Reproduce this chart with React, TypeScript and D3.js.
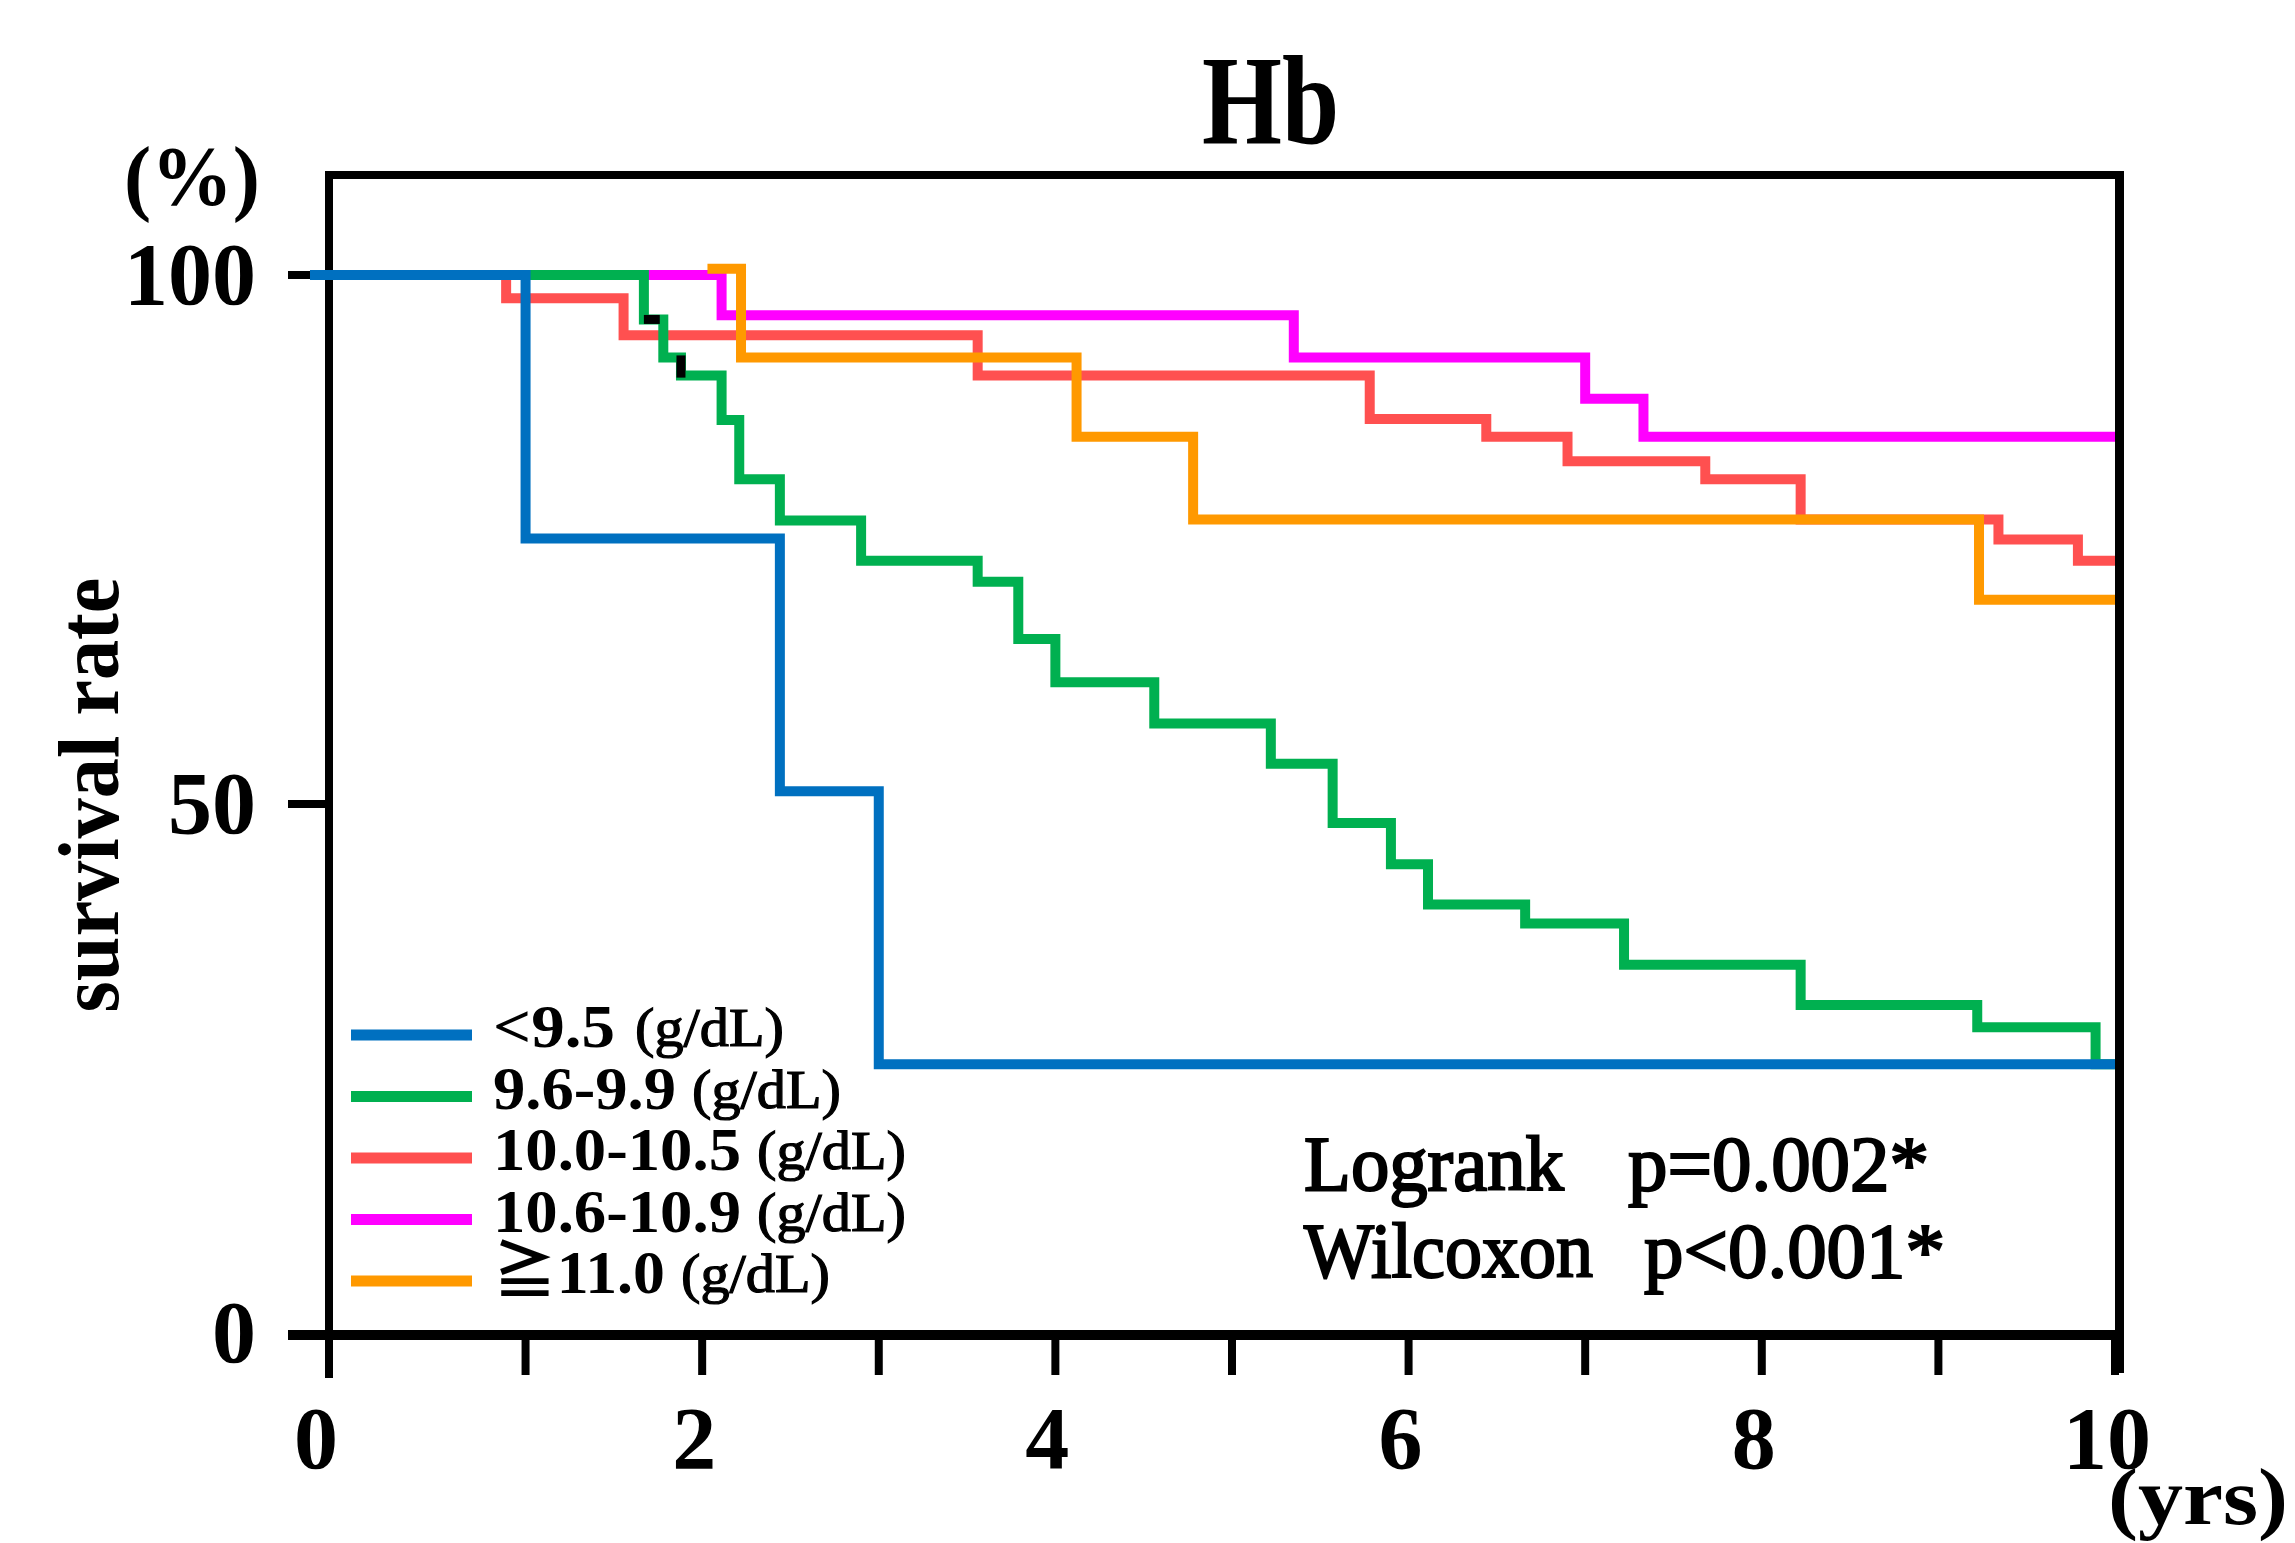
import React from 'react';
import * as d3 from 'd3';

// ---------------- data ----------------
const titleText = 'Hb';
const yTickValues = [0, 50, 100];
const xLabelValues = [0, 2, 4, 6, 8, 10];
const xTickValues = [1, 2, 3, 4, 5, 6, 7, 8, 9, 10];

const groupLabels = ['<9.5', '9.6-9.9', '10.0-10.5', '10.6-10.9', '≧11.0'];
const unitLabel = '(g/dL)';
const groupColors = ['#0070C0', '#00B050', '#FF5050', '#FF00FF', '#FF9900'];

// Kaplan-Meier steps: time (yrs) at which the curve takes the new survival (%)
const blueTimes = [0, 1.0, 2.44, 3.0, 10];
const blueSurv = [100, 75.1, 51.2, 25.4, 25.4];

const greenTimes = [0, 1.67, 1.78, 1.88, 2.11, 2.21, 2.44, 2.9, 3.56, 3.79, 4.0, 4.56, 5.22, 5.57, 5.9, 6.11, 6.66, 7.22, 8.22, 9.22, 9.89, 10];
const greenSurv = [100, 95.8, 92.2, 90.5, 86.3, 80.7, 76.8, 73.0, 71.0, 65.6, 61.5, 57.6, 53.8, 48.2, 44.3, 40.5, 38.7, 34.8, 31.0, 28.9, 25.4, 25.4];

const redTimes = [0, 0.89, 1.555, 3.56, 5.78, 6.44, 6.9, 7.68, 8.22, 9.34, 9.79, 10];
const redSurv = [100, 97.8, 94.3, 90.5, 86.4, 84.7, 82.4, 80.7, 76.9, 75.0, 73.0, 73.0];

const magentaTimes = [0, 2.11, 5.35, 7.0, 7.33, 10];
const magentaSurv = [100, 96.2, 92.2, 88.3, 84.7, 84.7];

const orangeTimes = [2.03, 2.22, 4.12, 4.78, 9.23, 10];
const orangeSurv = [100.6, 92.2, 84.7, 76.9, 69.3, 69.3];

// small black marks on the green curve
const markT0 = [1.67, 1.88];
const markT1 = [1.76, 1.88];
const markS0 = [95.8, 92.4];
const markS1 = [95.8, 90.3];

const statNames = ['Logrank', 'Wilcoxon'];
const statValues = ['p=0.002*', 'p<0.001*'];

// ---------------- layout ----------------
const W = 2295;
const H = 1543;
const L = 329, R = 2119.5, T = 175, B = 1335;
const CURVE_START_X = 310;
const FONT = "'Liberation Serif', 'Noto Sans CJK JP', 'DejaVu Serif', serif";

const seriesTimes = [blueTimes, greenTimes, redTimes, magentaTimes, orangeTimes];
const seriesSurv = [blueSurv, greenSurv, redSurv, magentaSurv, orangeSurv];
const drawOrder = [3, 2, 4, 1, 0];

const legendMainW = [122, 183, 248, 248, 172];
const legendUnitX = [635, 692, 757, 757, 681];

export default function App() {
  const x = d3.scaleLinear().domain([-0.113, 10]).range([L, 2115]);
  const y = d3.scaleLinear().domain([0, 100]).range([1333, 275]);

  const line = d3
    .line<[number, number]>()
    .x((d) => (d[0] === 0 ? CURVE_START_X : x(d[0])))
    .y((d) => y(d[1]))
    .curve(d3.curveStepAfter);

  const paths = seriesTimes.map((ts, i) => line(ts.map((t, j) => [t, seriesSurv[i][j]] as [number, number])) || '');

  return (
    <svg
      width={W}
      height={H}
      style={{ position: 'absolute', left: 0, top: 0, background: '#fff' }}
      fontFamily={FONT}
    >
      <rect x={0} y={0} width={W} height={H} fill="#fff" />

      {/* title */}
      <text x={1202} y={143} fontSize={128} fontWeight="bold" textLength={137} lengthAdjust="spacingAndGlyphs">
        {titleText}
      </text>

      {/* (%) */}
      <text x={124} y={205} fontSize={84} fontWeight="bold" textLength={136} lengthAdjust="spacingAndGlyphs">
        (%)
      </text>

      {/* y label */}
      <text
        transform={`translate(118, 795) rotate(-90)`}
        textAnchor="middle"
        fontSize={86}
        fontWeight="bold"
        textLength={435}
        lengthAdjust="spacingAndGlyphs"
      >
        survival rate
      </text>

      {/* box */}
      <line x1={L - 4} x2={R + 4.5} y1={T} y2={T} stroke="#000" strokeWidth={8} />
      <line x1={R} x2={R} y1={T - 4} y2={1373} stroke="#000" strokeWidth={9} />
      <line x1={L} x2={L} y1={T - 4} y2={1378} stroke="#000" strokeWidth={8} />
      <line x1={288} x2={R + 4} y1={B} y2={B} stroke="#000" strokeWidth={10} />

      {/* y ticks */}
      {yTickValues.filter((v) => v > 0).map((v) => (
        <line key={v} x1={288} x2={L} y1={y(v)} y2={y(v)} stroke="#000" strokeWidth={8} />
      ))}
      {yTickValues.map((v) => (
        <text key={v} x={256} y={y(v) + 29} textAnchor="end" fontSize={88} fontWeight="bold">
          {v}
        </text>
      ))}

      {/* x ticks */}
      {xTickValues.map((v) => (
        <line key={v} x1={x(v)} x2={x(v)} y1={B} y2={1375} stroke="#000" strokeWidth={8} />
      ))}
      {xLabelValues.map((v) => (
        <text key={v} x={v === 0 ? L - 13 : x(v) - 8} y={1468} textAnchor="middle" fontSize={88} fontWeight="bold">
          {v}
        </text>
      ))}
      <text x={2108} y={1524} fontSize={80} fontWeight="bold" textLength={180} lengthAdjust="spacingAndGlyphs">
        (yrs)
      </text>

      {/* curves */}
      {drawOrder.map((i) => (
        <g key={i}>
          <path d={paths[i]} fill="none" stroke={groupColors[i]} strokeWidth={10} strokeLinejoin="miter" strokeLinecap="butt" />
          {i === 1 &&
            markT0.map((t0, k) => (
              <line
                key={k}
                x1={x(t0)}
                x2={x(markT1[k])}
                y1={y(markS0[k])}
                y2={y(markS1[k])}
                stroke="#000"
                strokeWidth={9}
              />
            ))}
        </g>
      ))}

      {/* legend */}
      {groupLabels.map((lab, i) => {
        const cy = 1035 + i * 61.5;
        return (
          <g key={lab}>
            <line x1={351} x2={472} y1={cy} y2={cy} stroke={groupColors[i]} strokeWidth={11} />
            <text x={493} y={cy + 12} fontSize={62} fontWeight="bold" textLength={legendMainW[i]} lengthAdjust="spacingAndGlyphs">
              {lab}
            </text>
            <text
              x={legendUnitX[i]}
              y={cy + 11}
              fontSize={54}
              stroke="#000"
              strokeWidth={1.2}
              textLength={149}
              lengthAdjust="spacingAndGlyphs"
            >
              {unitLabel}
            </text>
          </g>
        );
      })}

      {/* statistics */}
      {statNames.map((s, i) => (
        <g key={s} stroke="#000" strokeWidth={2.2}>
          <text x={1304} y={1190 + i * 87} fontSize={79} textLength={i === 0 ? 260 : 289} lengthAdjust="spacingAndGlyphs">
            {s}
          </text>
          <text x={i === 0 ? 1628 : 1644} y={1190 + i * 87} fontSize={79} textLength={301} lengthAdjust="spacingAndGlyphs">
            {statValues[i]}
          </text>
        </g>
      ))}
    </svg>
  );
}
